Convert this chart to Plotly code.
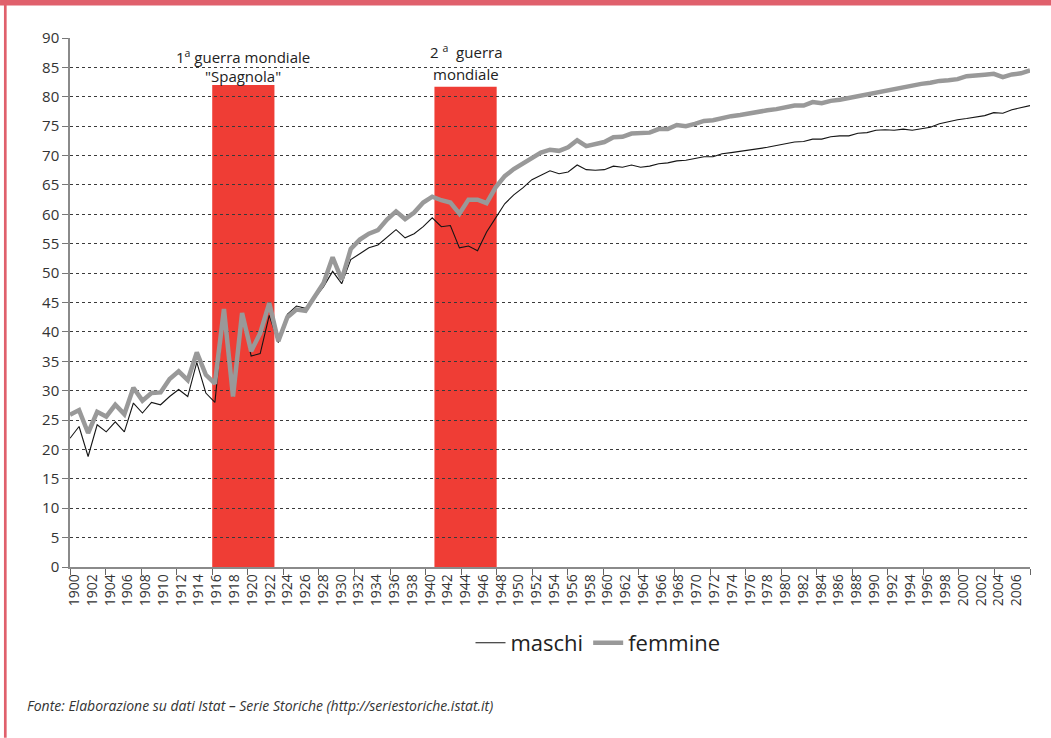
import plotly.graph_objects as go

# ---------------- data ----------------
years = list(range(1900, 2007))

maschi = [
    21.9, 23.9, 18.8, 24.2, 23.0, 24.7, 23.0, 27.9, 26.2, 28.0,
    27.6, 29.0, 30.2, 29.0, 34.8, 29.6, 28.0, 43.4, 29.0, 42.8,
    35.9, 36.3, 42.8, 38.2, 43.0, 44.4, 44.0, 45.7, 47.7, 50.3,
    48.2, 52.3, 53.3, 54.3, 54.8, 56.1, 57.4, 56.0, 56.7, 57.9,
    59.4, 57.9, 58.1, 54.3, 54.6, 53.8, 57.0, 59.4, 61.8, 63.3,
    64.5, 65.9, 66.6, 67.4, 66.9, 67.2, 68.4, 67.6, 67.5, 67.6,
    68.2, 68.0, 68.4, 68.0, 68.2, 68.6, 68.75, 69.1, 69.2, 69.5,
    69.8, 69.8, 70.3, 70.5, 70.7, 71.0, 71.2, 71.4, 71.7, 72.0,
    72.3, 72.4, 72.8, 72.8, 73.2, 73.35, 73.35, 73.8, 73.9, 74.3,
    74.4, 74.3, 74.5, 74.3, 74.5, 74.8, 75.4, 75.8, 76.1, 76.3,
    76.5, 76.8, 77.3, 77.2, 77.8, 78.1, 78.5,
]

femmine = [
    25.9, 26.7, 22.8, 26.4, 25.6, 27.6, 26.0, 30.5, 28.3, 29.6,
    29.7, 32.0, 33.3, 31.8, 36.5, 32.7, 31.2, 43.9, 29.0, 43.2,
    36.7, 39.8, 44.9, 38.4, 42.5, 43.8, 43.6, 46.0, 48.3, 52.7,
    48.9, 54.1, 55.7, 56.7, 57.3, 59.1, 60.5, 59.2, 60.3, 62.0,
    63.0, 62.4, 62.0, 60.1, 62.5, 62.5, 61.9, 64.6, 66.5, 67.7,
    68.6, 69.7, 70.5, 71.0, 70.8, 71.4, 72.6, 71.6, 72.0, 72.3,
    73.1, 73.2, 73.75, 73.9, 73.9, 74.5, 74.5, 75.2, 75.0, 75.4,
    75.9, 76.0, 76.4, 76.7, 76.9, 77.2, 77.4, 77.7, 77.9, 78.2,
    78.5, 78.5, 79.1, 78.9, 79.3, 79.5, 79.8, 80.2, 80.5, 80.8,
    81.1, 81.3, 81.6, 81.9, 82.2, 82.4, 82.7, 82.8, 83.0, 83.5,
    83.7, 83.75, 83.9, 83.35, 83.8, 84.0, 84.5,
]

guerra1_years = list(range(1916, 1923))
guerra1_height = 82.0
guerra2_years = list(range(1941, 1948))
guerra2_height = 81.7

label_years = years[::2]
y_ticks = list(range(0, 91, 5))

# ---------------- figure ----------------
RED = "#ef3d35"
FONT = "Open Sans"

fig = go.Figure()

fig.add_trace(go.Scatter(
    x=years, y=maschi, mode="lines", name="maschi", xaxis="x2",
    line=dict(color="#151515", width=1.1),
))
fig.add_trace(go.Scatter(
    x=years, y=femmine, mode="lines", name="femmine", xaxis="x2",
    line=dict(color="#999999", width=4.5),
))

# war / epidemic bands (drawn below the gridlines)
for yrs, h in [(guerra1_years, guerra1_height), (guerra2_years, guerra2_height)]:
    fig.add_shape(type="rect", xref="x", yref="y",
                  x0=yrs[0] - 0.5, x1=yrs[-1] + 0.5, y0=0, y1=h,
                  fillcolor=RED, line=dict(width=0), layer="below")

c1 = sum(guerra1_years) / len(guerra1_years)
c2 = sum(guerra2_years) / len(guerra2_years)
ann_font = dict(family=FONT, size=15, color="#222222")
fig.add_annotation(x=c1, y=86.8, xref="x", yref="y", showarrow=False,
                   text="1<sup>a</sup> guerra mondiale", font=ann_font)
fig.add_annotation(x=c1, y=83.6, xref="x", yref="y", showarrow=False,
                   text="\"Spagnola\"", font=ann_font)
fig.add_annotation(x=c2, y=87.7, xref="x", yref="y", showarrow=False,
                   text="2 <sup>a</sup>\u00a0 guerra", font=ann_font)
fig.add_annotation(x=c2, y=83.9, xref="x", yref="y", showarrow=False,
                   text="mondiale", font=ann_font)

# footer
fig.add_annotation(x=-0.047, y=-0.261, xref="paper", yref="paper",
                   xanchor="left", yanchor="middle", showarrow=False,
                   text="<i>Fonte: Elaborazione su dati Istat \u2013 Serie Storiche (http://seriestoriche.istat.it)</i>",
                   font=dict(family=FONT, size=14, color="#333333"))

# frame (pink border, top and left)
FRAME = "#e0606c"
fig.add_shape(type="rect", xref="paper", yref="paper",
              x0=-0.0729, x1=1.0219, y0=1.0615, y1=1.0718,
              fillcolor=FRAME, line=dict(width=0), layer="above")
fig.add_shape(type="rect", xref="paper", yref="paper",
              x0=-0.0688, x1=-0.0660, y0=-0.323, y1=1.0718,
              fillcolor=FRAME, line=dict(width=0), layer="above")

boundaries = [years[0] - 0.5 + k for k in range(0, len(years) + 4, 4)]

fig.update_layout(
    width=1051, height=738,
    margin=dict(l=70, r=21, t=38, b=171, autoexpand=False),
    paper_bgcolor="white", plot_bgcolor="white",
    font=dict(family=FONT, color="#333333"),
    showlegend=True,
    legend=dict(orientation="h", x=0.55, y=-0.1437, xanchor="center", yanchor="middle",
                font=dict(family=FONT, size=22, color="#222222"),
                bgcolor="rgba(0,0,0,0)", itemwidth=30),
    xaxis=dict(
        range=[years[0] - 0.5, years[-1] + 1.5],
        tickmode="array", tickvals=label_years, ticktext=[str(y) for y in label_years],
        tickangle=-90, ticks="", showgrid=False, zeroline=False,
        showline=True, linecolor="#8a8a8a", linewidth=1.5,
        tickfont=dict(family=FONT, size=14, color="#333333"),
        minor=dict(tickmode="array", tickvals=boundaries, ticks="outside",
                   ticklen=6, tickwidth=1, tickcolor="#666666", showgrid=False),
    ),
    xaxis2=dict(
        range=[years[0], years[-1]], overlaying="x", visible=False,
    ),
    yaxis=dict(
        range=[0, 90], tickmode="array", tickvals=y_ticks,
        ticks="outside", ticklen=6, tickwidth=1, tickcolor="#777777",
        showgrid=True, gridcolor="#3a3a3a", gridwidth=1, griddash="3px,3px",
        zeroline=False, showline=True, linecolor="#8a8a8a", linewidth=1.5,
        tickfont=dict(family=FONT, size=15, color="#333333"),
    ),
)

fig.write_html("out.html",
               config={"displayModeBar": False},
               post_script="document.body.style.margin='0';document.body.style.overflow='hidden';")
